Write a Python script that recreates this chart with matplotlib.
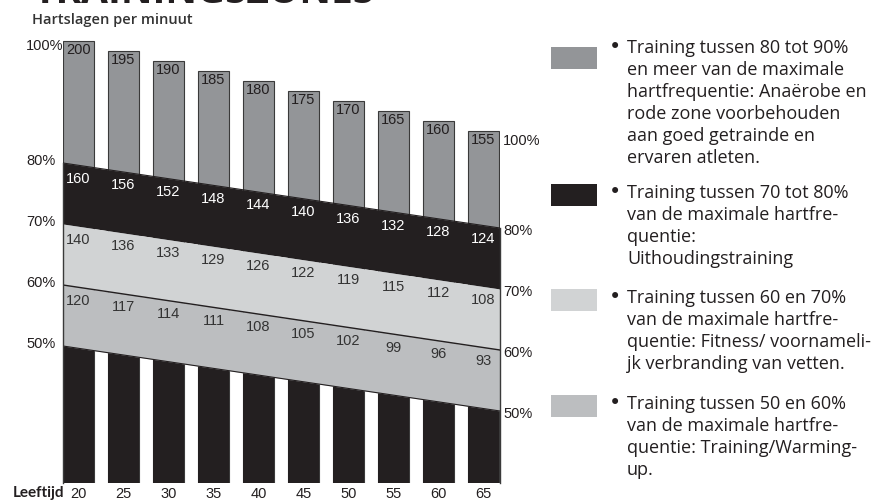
import numpy as np
import matplotlib
matplotlib.use("Agg")
import matplotlib.pyplot as plt
from matplotlib.patches import Rectangle

# leeftijden en hartslagen (slagen per minuut)
ages = [20, 25, 30, 35, 40, 45, 50, 55, 60, 65]
max_hr = [200, 195, 190, 185, 180, 175, 170, 165, 160, 155]
hr_80 = [160, 156, 152, 148, 144, 140, 136, 132, 128, 124]
hr_70 = [140, 136, 133, 129, 126, 122, 119, 115, 112, 108]
hr_60 = [120, 117, 114, 111, 108, 105, 102, 99, 96, 93]
zone_pcts = [80, 70, 60, 50]

legend_texts = [
    "Training tussen 80 tot 90%\nen meer van de maximale\nhartfrequentie: Anaërobe en\n"
    "rode zone voorbehouden\naan goed getrainde en\nervaren atleten.",
    "Training tussen 70 tot 80%\nvan de maximale hartfre-\nquentie:\nUithoudingstraining",
    "Training tussen 60 en 70%\nvan de maximale hartfre-\nquentie: Fitness/ voornameli-\n"
    "jk verbranding van vetten.",
    "Training tussen 50 en 60%\nvan de maximale hartfre-\nquentie: Training/Warming-\nup.",
]

DARK = "#231f20"
GRAY = "#939598"
LIGHT = "#d1d3d4"
MID = "#bcbec0"
legend_colors = [GRAY, DARK, LIGHT, MID]

NUM_FONT = "Liberation Sans"
TXT_FONT = "Open Sans"

W, H = 879, 501
fig = plt.figure(figsize=(W / 100, H / 100), dpi=100)

# plot area in pixels: x 63..500, y 40..483 (from top)
ax = fig.add_axes([63 / W, (H - 483) / H, 437 / W, 443 / H])
XMIN, XMAX = 20 - 15.5 / 9, 20 + (500 - 78.5) / 9
BAR_W = 31 / 9
ax.set_xlim(XMIN, XMAX)
ax.set_ylim(200.5 - 443 / 2, 200.5)   # 2 px per slag

# zone axis: percentages, bands slope downwards with age
axz = ax.twinx()
PCT_SPAN = 443 / 6.1
axz.set_ylim(100 + 1 / 6.1 - PCT_SPAN, 100 + 1 / 6.1)
SLOPE = (65 / 6.1) / (XMAX - XMIN)


def zone_y(p, a):
    return p - SLOPE * (np.asarray(a, dtype=float) - XMIN)


ybot_hr = ax.get_ylim()[0]
ybot_z = axz.get_ylim()[0]

# grey bars up to the maximum heart rate
ax.bar(ages, [h - ybot_hr for h in max_hr], bottom=ybot_hr, width=BAR_W,
       color=GRAY, edgecolor="#3a3a3a", linewidth=0.8, zorder=1)
for a, h in zip(ages, max_hr):
    ax.text(a, h - 4.7, str(h), ha="center", va="center", fontsize=10.5,
            family=NUM_FONT, color=DARK, zorder=5)

# black bars below the 50% line
axz.bar(ages, [zone_y(52, a) - ybot_z for a in ages], bottom=ybot_z,
        width=BAR_W, color=DARK, linewidth=0, zorder=1)

# zone bands across the full width
xs = np.array([XMIN, XMAX])
band_colors = [DARK, LIGHT, MID]
for hi, lo, c in zip(zone_pcts[:-1], zone_pcts[1:], band_colors):
    axz.fill_between(xs, zone_y(lo, xs), zone_y(hi, xs), color=c,
                     linewidth=0, zorder=2)
axz.plot(xs, zone_y(60, xs), color=DARK, lw=1.0, zorder=3)
axz.plot(xs, zone_y(50, xs), color=DARK, lw=0.8, zorder=3)
axz.plot(xs, zone_y(80, xs), color=DARK, lw=0.8, zorder=3)
for xv in xs:
    axz.plot([xv, xv], [ybot_z, zone_y(80, xv)], color="#3a3a3a", lw=1.0,
             zorder=3, clip_on=False)

# heart rate per zone
for pct, vals, col in [(80, hr_80, "white"), (70, hr_70, "#333333"),
                       (60, hr_60, "#333333")]:
    for a, v in zip(ages, vals):
        axz.text(a, zone_y(pct, a) - 2.2, str(v), ha="center", va="center",
                 fontsize=10.5, family=NUM_FONT, color=col, zorder=5)

# percentage labels on both sides
x_left = 20 + (26 - 78.5) / 9
x_right = 20 + (503 - 78.5) / 9
ax.text(x_left, max_hr[0] - 2.5, "100%", ha="left", va="center",
        fontsize=10.5, family=NUM_FONT, color=DARK, clip_on=False)
ax.text(x_right, max_hr[-1] - 5, "100%", ha="left", va="center",
        fontsize=10.5, family=NUM_FONT, color=DARK, clip_on=False)
for p in zone_pcts:
    axz.text(x_left, zone_y(p, XMIN) + 0.3, f"{p}%", ha="left", va="center",
             fontsize=10.5, family=NUM_FONT, color=DARK, clip_on=False)
    axz.text(x_right, zone_y(p, XMAX) - 0.5, f"{p}%", ha="left", va="center",
             fontsize=10.5, family=NUM_FONT, color=DARK, clip_on=False)

ax.set_xticks(ages)
ax.set_xticklabels([str(a) for a in ages], fontsize=10.5, family=NUM_FONT,
                   color=DARK)
ax.tick_params(axis="x", length=0, pad=3)
ax.set_yticks([])
axz.set_yticks([])
for a_ in (ax, axz):
    for s in a_.spines.values():
        s.set_visible(False)

# titles
fig.text(33 / W, 1 - 3 / H, "TRAININGSZONES", fontsize=28, family=TXT_FONT,
         weight="bold", color=DARK, ha="left", va="baseline")
fig.text(32 / W, 1 - 24 / H, "Hartslagen per minuut", fontsize=10.5,
         family=TXT_FONT, weight="semibold", color="#333333", ha="left",
         va="baseline")
fig.text(13 / W, 1 - 497 / H, "Leeftijd", fontsize=11, family="Lato",
         weight="bold", color=DARK, ha="left", va="baseline")

# legend: colour swatch, bullet and wrapped description
sq_tops = [47, 184, 289, 395]
txt_tops = [39, 184, 289, 395]
for sq, tt, col, txt in zip(sq_tops, txt_tops, legend_colors, legend_texts):
    fig.add_artist(Rectangle((551 / W, 1 - (sq + 22) / H), 46 / W, 22 / H,
                             transform=fig.transFigure, color=col, lw=0))
    fig.text(609 / W, 1 - (tt - 2) / H, "\u2022", fontsize=15,
             family="DejaVu Sans", color=DARK, ha="left", va="top")
    fig.text(627 / W, 1 - tt / H, txt, fontsize=13, family=TXT_FONT,
             color=DARK, ha="left", va="top", linespacing=1.29)

fig.savefig("out.png", dpi=100)
